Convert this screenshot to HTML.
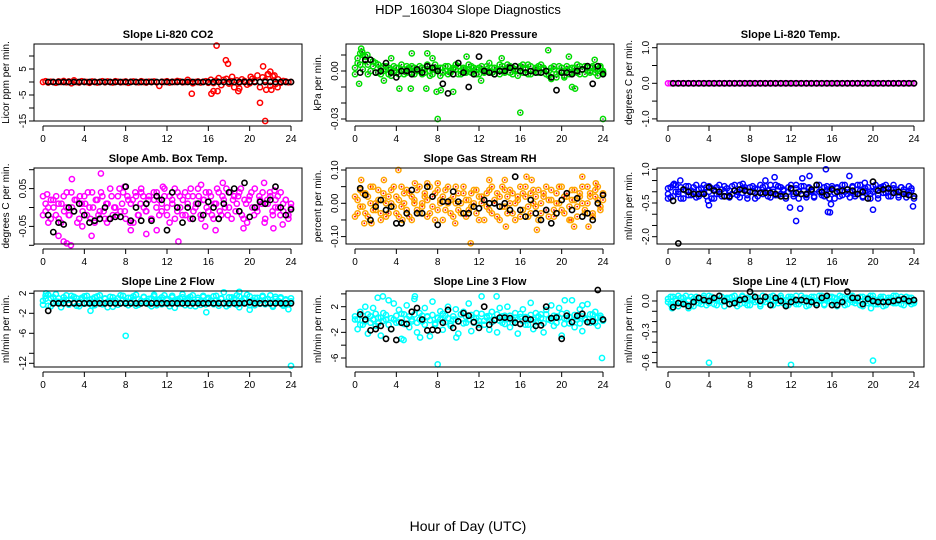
<!DOCTYPE html>
<html><head><meta charset="utf-8"><style>
html,body{margin:0;padding:0;background:#fff;}
svg{display:block;font-family:"Liberation Sans",sans-serif;}
</style></head><body>
<svg id="chart" width="936" height="540" viewBox="0 0 936 540">
<text x="468" y="14" text-anchor="middle" font-size="13">HDP_160304  Slope Diagnostics</text>
<text x="468" y="531" text-anchor="middle" font-size="14">Hour of Day (UTC)</text>
</svg>
<script>
// ---- data ----
const xTicks=[0,4,8,12,16,20,24];
// CO2
const co2Band=[0,0.3,-0.2,0.1,0,-0.3,0.2,0,0.4,-0.1,0.2,-0.5,0.6,0,-0.2,0.3,0.1,0,-0.3,0.2,0.1,-0.2,0,0.3,-0.1,0.2,0,-0.2,0.3,0.1,-0.1,0,0.2,-0.3,0.1,0.2,0,-0.1,0.3,0,-0.2,0.1,0,0.2,-0.1,-1.5,0.1,0,0.3,-0.2,0.1,0,0.4,0.2,-0.1,0,0.8,0.1,-0.5,0,0.2,-0.2,0.1,0.3,-0.3,0.9,-0.4,0.5,1.5,-1.2,0.8,1.2,-0.6,0.3,-2,0.6,-0.3,1,0.4,-1,-0.5,1.2,0.3,2.5,-2,1.8,0.6,3,-1.5,2.2,-0.8,1,-0.3,0.4,0.2,-0.1,0];
const co2OutH=[14.4,16.3,16.5,16.8,16.9,17.7,17.9,18.3,18.9,19,20.1,21,21.3,21.5,21.6,21.8,22,22.1,22.4,22.7];
const co2OutV=[-4.5,-4.5,-3.5,14,-3.5,8.4,7,2,-3.5,-2.5,2,-8,6,-15,-3,3,4,-3,2.5,-2];
const co2Black=[0,0,0,0,0,0,0,0,0,0,0,0,0,0,0,0,0,0,0,0,0,0,0,0,0,0,0,0,0,0,0,0,0,0,0,0,0,0,0,0,0,0,0,0,0,0,0,0];
// Pressure
const prBandA=[0.002,0.008,0.004,0.010,0.006,-0.002,0.007,0.003,0.005,-0.001,0.002,0.000,0.003,-0.002,0.001,0.003,-0.001,0.002,0.000,-0.002,0.003,0.001,-0.001,0.002,0.000,0.003,-0.002,0.001,0.004,0.000,-0.002,0.002,0.001,-0.003,0.002,0.000,0.003,-0.001,0.001,0.004,-0.002,0.000,0.002,-0.001,0.001,0.003,0.000,-0.002,0.002,0.001,-0.001,0.003,0.000,0.002,-0.002,0.001,0.004,0.000,-0.001,0.002,0.003,-0.002,0.001,0.000,0.003,-0.001,0.002,0.004,-0.002,0.000,0.001,0.003,-0.001,0.002,0.000,-0.003,0.002,0.001,-0.002,0.003,0.000,-0.004,0.001,-0.002,0.002,0.000,-0.001,0.003,0.001,-0.002,0.002,0.000,0.003,-0.001,0.001,0.002,-0.001];
const prBandB=[-0.002,0.005,0.011,0.001,0.009,0.004,0.000,0.006,-0.001,0.004,-0.002,0.003,0.001,0.002,-0.003,0.000,0.002,-0.002,0.004,0.001,-0.001,0.002,0.003,-0.002,0.001,0.000,0.002,-0.001,0.003,-0.003,0.001,0.004,0.000,0.002,-0.001,0.003,-0.002,0.000,0.002,0.001,0.003,-0.002,0.001,0.000,0.004,-0.001,0.002,0.001,-0.002,0.003,0.000,0.001,0.005,-0.001,0.002,0.000,-0.002,0.003,0.001,0.004,-0.001,0.002,0.000,-0.003,0.002,0.004,0.001,-0.002,0.003,0.000,0.002,-0.001,0.004,0.001,-0.002,0.000,-0.005,0.003,-0.004,0.000,0.002,-0.003,0.003,0.001,-0.001,0.002,0.004,-0.002,0.001,0.003,0.000,-0.001,0.002,0.001,-0.003,0.003,0.000];
const prOutH=[0.4,0.6,0.7,1.2,3.5,4.3,5.4,5.5,6.9,7,7.5,7.9,8,8.3,9.5,10.8,14.2,16,18.7,20.7,21,21.3,23.2,24,2.8,12.2];
const prOutV=[-0.008,0.014,0.012,0.01,0.008,-0.011,-0.011,0.011,-0.011,0.011,0.008,-0.013,-0.030,-0.012,-0.013,0.009,0.008,-0.026,0.013,0.009,-0.010,-0.011,0.007,-0.030,-0.006,-0.006];
const prBlack=[-0.001,0.007,0.007,-0.001,0.000,0.005,-0.001,-0.004,0.000,0.000,-0.002,0.001,-0.001,0.003,0.002,0.000,-0.008,-0.014,-0.002,0.005,-0.001,-0.010,-0.002,0.009,0.000,-0.001,-0.002,0.000,0.000,0.002,0.003,0.000,-0.001,0.000,-0.001,-0.001,0.000,-0.004,-0.012,-0.001,-0.001,-0.002,0.000,0.001,0.003,-0.008,0.003,-0.002];
// Temperature
const tmBand=[0,0,0,0,0,0,0,0,0,0,0,0,0,0,0,0,0,0,0,0,0,0,0,0,0,0,0,0,0,0,0,0,0,0,0,0,0,0,0,0,0,0,0,0,0,0,0,0,0,0,0,0,0,0,0,0,0,0,0,0,0,0,0,0,0,0,0,0,0,0,0,0,0,0,0,0,0,0,0,0,0,0,0,0,0,0,0,0,0,0,0,0,0,0,0,0,0];
const tmBlack=[0,0,0,0,0,0,0,0,0,0,0,0,0,0,0,0,0,0,0,0,0,0,0,0,0,0,0,0,0,0,0,0,0,0,0,0,0,0,0,0,0,0,0,0,0,0,0,0];
// Amb box temp
const abBandA=[0.03,-0.01,0.00,-0.03,0.02,-0.02,0.01,-0.04,0.03,0.00,-0.02,0.04,-0.01,0.02,-0.03,0.01,0.03,-0.02,0.00,0.04,-0.04,0.02,-0.01,0.03,-0.03,0.01,0.05,-0.02,0.00,0.03,-0.01,0.04,-0.03,0.02,0.01,-0.04,0.03,-0.02,0.05,0.00,-0.01,0.03,-0.03,0.02,0.04,-0.02,0.01,0.03,0.00,-0.04,0.02,0.05,-0.01,0.03,-0.02,0.04,0.01,-0.03,0.03,0.00,0.05,-0.02,0.02,0.04,-0.01,0.03,-0.03,0.01,0.04,-0.02,0.02,0.05,0.00,-0.03,0.03,0.01,0.04,-0.02,0.02,-0.04,0.03,0.00,0.05,-0.01,0.02,0.04,-0.03,0.01,0.03,-0.02,0.02,0.00,0.04,-0.01,0.02,-0.02,0.01];
const abBandB=[-0.02,0.01,-0.04,0.02,0.00,0.03,-0.03,0.01,-0.01,0.04,-0.02,0.00,0.02,-0.04,0.03,-0.01,0.01,0.04,-0.03,0.00,0.02,-0.02,0.04,-0.01,0.01,-0.03,0.03,0.00,-0.02,0.05,0.01,-0.01,0.03,-0.04,0.02,0.04,-0.02,0.01,0.03,-0.01,0.02,-0.03,0.04,0.00,0.02,-0.01,0.05,-0.02,0.03,0.01,-0.03,0.04,0.00,0.02,-0.02,0.03,0.05,-0.01,0.01,0.03,-0.03,0.02,0.00,0.04,-0.02,0.01,0.05,-0.01,0.03,0.00,-0.02,0.04,0.02,-0.01,0.03,0.05,-0.03,0.01,0.02,0.04,-0.02,0.00,0.03,0.01,-0.04,0.02,0.04,-0.01,0.00,0.03,-0.02,0.01,0.02,-0.03,0.00];
const abOutH=[0.4,1.5,2,2.3,2.7,2.8,3.8,4.7,5.6,6.2,7.9,8.5,9.5,10,11,11.6,13.1,15.3,15.7,16.7,17.4,19.4,21.4,22.3,22.4,23.2];
const abOutV=[0.035,-0.075,-0.09,-0.095,-0.1,0.075,-0.05,-0.075,0.09,-0.04,0.055,-0.06,0.04,-0.07,-0.06,0.055,-0.09,0.06,-0.05,-0.06,0.065,-0.055,0.065,-0.055,0.045,-0.045];
const abBlack=[-0.02,-0.065,-0.04,-0.045,0.00,-0.01,0.01,-0.02,-0.04,-0.035,-0.03,0.00,-0.03,-0.025,-0.025,0.055,-0.035,0.00,-0.035,0.01,-0.035,0.03,0.02,-0.06,0.04,0.00,-0.04,0.00,-0.03,0.01,-0.02,0.015,0.00,-0.03,0.01,0.04,0.05,-0.01,0.065,-0.025,0.00,0.015,0.01,0.02,0.055,0.00,-0.02,-0.005];
// Gas stream RH
const rhBandA=[0.02,-0.03,0.04,-0.01,0.03,-0.04,0.00,0.05,-0.02,0.01,-0.05,0.03,0.00,-0.03,0.04,-0.01,0.02,-0.04,0.05,0.00,-0.02,0.03,-0.05,0.01,0.04,-0.03,0.00,0.02,-0.04,0.05,-0.01,0.03,-0.02,0.01,-0.05,0.04,0.00,-0.03,0.02,0.05,-0.02,0.00,0.03,-0.04,0.01,-0.01,0.04,-0.03,0.02,0.00,-0.05,0.03,-0.02,0.05,0.01,-0.04,0.02,-0.01,0.04,-0.03,0.00,0.03,-0.05,0.01,0.05,-0.02,0.02,-0.04,0.03,0.00,-0.01,0.04,-0.03,0.02,0.05,-0.04,0.01,-0.02,0.03,0.00,0.05,-0.03,0.02,-0.01,0.04,0.01,-0.04,0.03,0.00,-0.02,0.05,0.02,-0.03,0.04,0.01,-0.02,0.03];
const rhBandB=[-0.04,0.01,-0.01,0.03,-0.03,0.02,0.05,-0.02,0.00,0.04,-0.03,0.01,-0.04,0.02,0.00,0.05,-0.03,0.01,-0.01,0.03,0.04,-0.04,0.02,0.00,-0.02,0.05,-0.01,0.03,0.01,-0.03,0.02,-0.05,0.04,0.00,0.02,-0.02,0.05,0.01,-0.04,0.00,0.03,-0.03,0.05,0.01,-0.02,0.03,0.00,0.04,-0.05,0.02,0.01,-0.01,0.04,-0.03,0.00,0.03,-0.05,0.05,-0.01,0.02,0.04,-0.03,0.00,0.02,-0.04,0.03,0.05,-0.01,-0.03,0.04,0.02,-0.05,0.00,0.03,-0.02,0.01,0.04,-0.04,0.00,0.05,-0.02,0.02,0.03,-0.05,0.01,0.04,-0.01,0.02,0.05,-0.03,0.00,0.03,-0.04,0.02,0.05,-0.01,0.01];
const rhOutH=[0.6,0.9,1.6,2.8,4.2,4.6,5.8,7,8,9.7,11.2,13,14.5,14.6,16.6,17.1,17.6,20.9,21.2,22,22.6,23.3];
const rhOutV=[0.07,-0.06,-0.06,0.07,0.10,-0.05,0.06,0.06,0.06,-0.06,-0.12,0.07,0.07,-0.07,0.08,0.07,-0.08,-0.05,-0.07,0.08,-0.07,0.06];
const rhBlack=[0.045,0.025,-0.05,-0.01,0.01,-0.02,-0.01,-0.06,-0.06,-0.03,0.04,-0.03,-0.03,0.05,0.02,-0.065,0.005,0.005,0.035,0.005,-0.03,-0.03,-0.01,-0.015,0.01,0.00,0.00,-0.01,0.00,-0.02,0.08,-0.02,-0.04,0.01,-0.03,-0.05,-0.02,-0.06,-0.03,0.01,0.03,-0.02,0.015,-0.04,-0.03,-0.05,0.00,0.025];
// Sample flow
const sfBandA=[-0.1,0.2,-0.2,0.3,0.0,-0.3,0.1,0.25,-0.15,0.05,0.2,-0.25,0.1,-0.05,0.3,-0.2,0.0,0.15,-0.3,0.2,-0.1,0.1,0.25,-0.2,0.05,-0.1,0.3,0.0,-0.25,0.15,0.2,-0.15,0.0,0.25,-0.3,0.1,-0.05,0.2,0.0,-0.2,0.3,0.1,-0.15,0.25,-0.1,0.05,-0.3,0.2,0.1,-0.2,0.3,0.0,-0.1,0.25,-0.25,0.15,0.05,-0.2,0.3,0.0,-0.15,0.2,0.1,-0.3,0.25,-0.05,0.15,-0.2,0.3,0.0,0.1,-0.25,0.2,-0.1,0.3,0.05,-0.2,0.15,0.0,-0.3,0.25,0.1,-0.15,0.2,-0.05,0.3,0.0,-0.2,0.15,0.1,-0.25,0.2,0.0,-0.1,0.25,0.05,-0.2];
const sfBandB=[0.15,-0.25,0.3,0.0,-0.1,0.2,-0.3,0.05,0.25,-0.15,0.0,0.3,-0.2,0.15,-0.05,0.2,0.25,-0.3,0.1,-0.1,0.3,-0.2,0.0,0.15,-0.25,0.25,0.05,-0.15,0.3,-0.05,0.1,-0.3,0.2,0.0,0.15,-0.2,0.3,-0.1,0.25,0.05,-0.25,0.0,0.3,-0.15,0.2,0.1,-0.2,0.0,0.3,-0.1,0.15,-0.3,0.25,0.05,-0.15,0.2,0.0,-0.25,0.1,0.3,-0.05,-0.2,0.25,0.0,0.15,-0.3,0.2,0.05,-0.15,0.3,-0.1,0.0,0.25,-0.2,0.1,0.3,-0.25,0.05,0.2,-0.1,0.0,0.3,-0.3,0.15,0.25,-0.05,-0.2,0.1,0.3,0.0,-0.15,0.2,0.1,-0.25,0.0,0.15,-0.3];
const sfOutH=[0,0.6,1.2,3.9,4.0,9.5,10.4,11.9,12.5,12.9,13.1,13.8,15.4,15.6,15.8,15.9,17.7,20.0,23.9,7.3,19.2];
const sfOutV=[-0.3,0.35,0.5,-0.4,-0.6,0.5,0.65,-0.7,-1.3,-0.75,0.6,0.7,1.0,-0.9,-0.92,-0.55,0.7,-0.8,-0.65,0.35,0.4];
const sfBlack=[-0.4,-2.3,0.1,0.0,-0.1,-0.1,-0.1,0.2,0.05,0.0,-0.2,-0.2,0.05,0.1,0.05,0.0,-0.05,-0.05,-0.05,-0.05,-0.1,-0.2,-0.2,0.15,-0.05,-0.1,-0.1,0.1,0.3,0.0,-0.15,0.1,0.0,0.05,0.1,0.05,-0.1,0.0,-0.3,0.45,0.05,0.1,0.15,-0.05,0.0,-0.1,-0.15,-0.2];
// Line 2 flow
const l2BandA=[0.5,1.5,-0.5,1.0,0.0,1.8,0.3,-0.8,1.2,0.6,-0.3,1.5,0.2,1.0,-0.6,0.8,1.4,0.0,0.7,-0.5,1.2,0.4,1.6,-0.2,0.9,0.3,1.3,-0.7,0.6,1.0,0.0,1.5,0.4,-0.4,1.1,0.7,1.7,-0.3,0.5,1.2,0.1,0.9,-0.6,1.4,0.3,0.8,-0.2,1.6,0.6,0.0,1.2,-0.9,0.5,1.0,1.8,-0.4,0.7,1.3,0.2,-0.6,1.1,0.4,1.5,-0.2,0.8,0.1,1.4,0.6,-0.5,1.0,2.2,0.3,-0.3,1.2,0.7,1.6,-0.8,0.5,1.0,0.0,1.4,0.3,-0.4,1.1,0.6,1.5,-0.2,0.9,0.2,-0.7,1.3,0.5,1.0,-0.5,0.8,-1.2,0.4];
const l2BandB=[-0.3,0.9,1.7,-0.6,1.2,0.4,1.0,0.0,0.6,1.6,-0.2,0.8,1.3,-0.5,0.4,1.1,-0.1,1.5,0.2,0.9,-0.4,1.4,0.6,0.0,1.0,-0.8,0.5,1.2,0.1,-0.3,1.6,0.7,-0.1,1.1,0.3,1.4,-0.5,0.8,0.0,1.3,0.5,-0.2,1.0,1.7,-0.4,0.6,1.2,0.0,0.9,-0.6,1.5,0.3,0.8,-0.1,1.2,0.5,1.0,-0.5,1.6,0.2,0.7,-0.3,1.3,0.0,1.1,0.6,-0.2,1.5,0.3,0.9,0.0,-0.6,1.2,0.4,1.0,-0.3,1.4,0.1,0.8,1.7,-0.4,0.6,1.1,0.2,-0.1,1.3,0.7,0.0,1.6,-0.5,0.9,0.3,1.2,-0.2,0.6,0.0,1.0];
const l2OutH=[8.0,24.0,0.3,4.6,15.8,19,20];
const l2OutV=[-6.5,-12.5,2.0,-1.5,-1.8,2.3,-1.3];
const l2Black=[-1.5,0,0,0,0,0,0,0,0,0,0,0,0,0,0,0,0,0,0,0,0,0,0,0,0,0,0,0,0,0,0,0,0,0,0,0,0,0,0,0.2,0,0,0,0,0,0,0,0];
// Line 3 flow
const l3BandA=[0.0,-1.5,1.2,-0.8,2.0,-2.2,0.5,1.8,-1.0,0.3,-2.5,1.0,0.0,3.0,-1.5,2.5,-0.5,1.5,-3.0,0.8,2.2,-1.2,0.0,3.2,-2.0,1.0,-0.3,1.8,0.5,-2.6,2.8,-0.8,0.2,1.3,-1.6,0.6,2.0,-1.0,0.0,1.6,-2.2,0.8,1.2,-0.5,2.5,-1.8,0.3,1.0,-0.8,3.6,-0.2,0.5,-1.6,1.2,0.0,-2.0,1.8,-0.5,0.6,2.0,-1.2,0.0,1.0,-2.2,0.4,1.6,-0.8,0.2,2.6,-1.5,1.0,-0.3,0.8,-2.0,1.5,0.0,2.2,-1.0,0.5,1.8,-2.5,0.2,1.0,-0.6,3.0,-1.2,0.4,1.6,-1.8,0.0,2.4,-0.5,0.8,1.2,-1.0,0.3,0.0];
const l3BandB=[0.5,0.0,-0.8,0.6,-0.3,0.8,-0.5,0.0,0.9,-0.6,0.3,-0.2,0.7,-0.8,0.2,0.0,0.6,-0.4,0.9,-0.7,0.1,0.5,-0.3,0.8,-0.5,0.0,0.6,-0.8,0.4,-0.1,0.7,-0.6,0.3,0.0,0.9,-0.4,0.2,-0.7,0.5,0.0,-0.3,0.8,-0.6,0.4,0.0,0.7,-0.5,0.2,-0.2,0.9,-0.8,0.3,0.6,-0.4,0.0,0.8,-0.2,0.5,-0.7,0.1,0.6,-0.5,0.3,0.0,0.9,-0.3,0.4,-0.8,0.7,0.0,-0.4,0.5,0.2,-0.6,0.8,0.0,-0.2,0.6,-0.5,0.3,0.9,-0.7,0.1,0.4,-0.3,0.7,0.0,-0.6,0.5,0.2,-0.4,0.8,0.0,-0.5,0.3,0.6,-0.2];
const l3OutH=[8.0,23.9,2.2,2.7,4.7,5.8,6.3,9.8,13.7,20.3,22.0];
const l3OutV=[-7.0,-6.0,3.4,3.6,-3.2,3.6,-2.8,-2.8,3.6,3.0,2.2];
const l3Black=[0.8,0.0,-1.7,-1.5,-1.0,-3.0,-1.5,-3.2,-0.5,-0.7,1.2,1.8,0.0,-1.7,-1.6,-1.7,-0.5,1.5,-1.3,-0.3,1.0,0.6,-0.4,-1.3,2.0,-0.8,-0.1,0.3,0.3,0.2,-0.5,-0.7,0.1,0.0,-1.0,-0.9,2.0,0.2,0.3,-3.0,0.6,-0.4,0.6,0.9,-0.4,-0.3,4.6,0.0];
// Line 4 flow
const l4BandA=[0.02,-0.03,0.04,0.00,-0.05,0.03,-0.01,0.05,0.01,-0.04,0.02,0.04,-0.02,0.00,0.03,-0.04,0.05,0.01,-0.03,0.02,0.00,0.04,-0.05,0.02,0.03,-0.02,0.05,0.00,-0.03,0.04,0.01,-0.04,0.02,0.05,-0.01,0.03,-0.05,0.00,0.04,0.02,-0.03,0.05,0.01,-0.02,0.03,0.00,-0.04,0.04,0.02,-0.01,0.05,-0.03,0.01,0.03,-0.05,0.02,0.04,0.00,-0.02,0.05,0.01,-0.04,0.03,0.00,0.04,-0.03,0.02,0.05,-0.01,-0.04,0.03,0.01,0.05,-0.02,0.00,0.04,-0.05,0.02,0.03,-0.01,0.05,0.00,-0.03,0.02,0.04,-0.04,0.01,0.03,-0.02,0.05,0.00,-0.03,0.02,0.04,-0.01,0.03,-0.02];
const l4BandB=[-0.01,0.04,-0.04,0.02,0.05,-0.02,0.03,-0.03,0.00,0.04,-0.05,0.01,0.03,-0.03,0.05,0.00,-0.02,0.04,0.02,-0.04,0.05,-0.01,0.01,0.03,-0.03,0.04,0.00,-0.05,0.02,0.05,-0.02,0.03,-0.04,0.01,0.04,0.00,-0.03,0.05,-0.01,0.02,0.04,-0.04,0.00,0.03,0.05,-0.02,0.01,-0.04,0.04,0.02,-0.03,0.00,0.05,-0.01,0.03,-0.04,0.01,0.04,-0.02,0.00,0.05,-0.03,0.02,0.04,-0.01,0.03,-0.05,0.00,0.04,0.02,-0.03,0.05,-0.01,0.01,0.03,-0.04,0.04,0.00,-0.02,0.05,0.02,-0.03,0.01,0.04,-0.05,0.00,0.03,-0.01,0.05,-0.02,0.02,0.04,-0.04,0.01,0.03,-0.03,0.00];
const l4OutH=[4.0,12.0,20.0,0.4,2.0,19.8];
const l4OutV=[-0.60,-0.62,-0.58,-0.07,-0.07,-0.07];
const l4Black=[-0.06,-0.02,-0.03,-0.05,-0.01,0.03,0.01,0.00,0.03,0.05,0.00,-0.03,-0.02,0.01,0.02,0.09,0.04,0.00,0.04,-0.04,0.03,0.00,-0.05,-0.01,0.01,0.01,0.00,-0.01,-0.04,0.03,0.05,-0.04,-0.04,-0.01,0.09,0.03,0.03,-0.03,0.02,0.00,-0.01,-0.01,-0.01,0.00,0.01,0.02,0.00,0.01];

// tick arrays
const co2Ticks=[10,5,0,-5,-10,-15], co2Labels=["","5","","-5","","-15"];
const prTicks=[0.01,0.00,-0.01,-0.02,-0.03], prLabels=["","0.00","","","-0.03"];
const tmTicks=[1.0,0.5,0.0,-0.5,-1.0], tmLabels=["1.0","","0.0","","-1.0"];
const abTicks=[0.10,0.05,0.00,-0.05,-0.10], abLabels=["","0.05","","-0.05",""];
const rhTicks=[0.10,0.05,0.00,-0.05,-0.10], rhLabels=["0.10","","0.00","","-0.10"];
const sfTicks=[1.0,0.5,0.0,-0.5,-1.0,-1.5,-2.0], sfLabels=["1.0","","","-0.5","","","-2.0"];
const l2Ticks=[2,-2,-6,-10,-12], l2Labels=["2","-2","-6","","-12"];
const l3Ticks=[4,2,0,-2,-4,-6], l3Labels=["","2","","-2","","-6"];
const l4Ticks=[0.0,-0.1,-0.2,-0.3,-0.4,-0.5,-0.6], l4Labels=["0.0","","","-0.3","","","-0.6"];

// ---- layout ----
const cols=[{bx0:34,bx1:302,h0:43,h24:291},{bx0:346,bx1:614,h0:355,h24:603},{bx0:657,bx1:924,h0:668,h24:914}];
const rows=[{by0:44,by1:121},{by0:168,by1:244},{by0:291,by1:367}];
const panels=[
 {id:"co2",title:"Slope Li-820 CO2",ylab:"Licor ppm  per min.",c:0,r:0,col:"#ff0000",ra:0,pa:82,rb:10,pb:56,bands:[co2Band],oh:co2OutH,ov:co2OutV,blk:co2Black,ticks:co2Ticks,labels:co2Labels},
 {id:"pressure",title:"Slope Li-820 Pressure",ylab:"kPa per min.",c:1,r:0,col:"#00dd00",ra:0,pa:71,rb:-0.03,pb:119,bands:[prBandA,prBandB],oh:prOutH,ov:prOutV,blk:prBlack,ticks:prTicks,labels:prLabels,dots:true},
 {id:"temp",title:"Slope Li-820 Temp.",ylab:"degrees C per min.",c:2,r:0,col:"#ff00ff",ra:0,pa:83.3,rb:1,pb:47.7,bands:[tmBand],oh:[],ov:[],blk:tmBlack,ticks:tmTicks,labels:tmLabels},
 {id:"ambbox",title:"Slope Amb. Box Temp.",ylab:"degrees C per min.",c:0,r:1,col:"#ff00ff",ra:0,pa:207.5,rb:0.05,pb:188.6,bands:[abBandA,abBandB],oh:abOutH,ov:abOutV,blk:abBlack,ticks:abTicks,labels:abLabels},
 {id:"rh",title:"Slope Gas Stream RH",ylab:"percent per min.",c:1,r:1,col:"#ffa500",ra:0,pa:203.3,rb:0.1,pb:170,bands:[rhBandA,rhBandB],oh:rhOutH,ov:rhOutV,blk:rhBlack,ticks:rhTicks,labels:rhLabels,reddots:true},
 {id:"sampleflow",title:"Slope Sample Flow",ylab:"ml/min per min.",c:2,r:1,col:"#0000ff",ra:1,pa:169.3,rb:-2,pb:236.7,bands:[sfBandA,sfBandB],oh:sfOutH,ov:sfOutV,blk:sfBlack,ticks:sfTicks,labels:sfLabels},
 {id:"line2",title:"Slope Line 2 Flow",ylab:"ml/min per min.",c:0,r:2,col:"#00ffff",ra:2,pa:293.3,rb:-12,pb:363.3,bands:[l2BandA,l2BandB],oh:l2OutH,ov:l2OutV,blk:l2Black,ticks:l2Ticks,labels:l2Labels},
 {id:"line3",title:"Slope Line 3 Flow",ylab:"ml/min per min.",c:1,r:2,col:"#00ffff",ra:2,pa:306.7,rb:-6,pb:358,bands:[l3BandA,l3BandB],oh:l3OutH,ov:l3OutV,blk:l3Black,ticks:l3Ticks,labels:l3Labels},
 {id:"line4",title:"Slope Line 4 (LT) Flow",ylab:"ml/min per min.",c:2,r:2,col:"#00ffff",ra:0,pa:301,rb:-0.6,pb:362.7,bands:[l4BandA,l4BandB],oh:l4OutH,ov:l4OutV,blk:l4Black,ticks:l4Ticks,labels:l4Labels}
];
const NS="http://www.w3.org/2000/svg";
const svg=document.getElementById('chart');
function mk(tag,attrs,parent){const e=document.createElementNS(NS,tag);for(const k in attrs)e.setAttribute(k,attrs[k]);(parent||svg).appendChild(e);return e;}
panels.forEach(p=>{
 const C=cols[p.c],R=rows[p.r];
 const xs=h=>C.h0+(h/24)*(C.h24-C.h0);
 const ys=v=>p.pa+(v-p.ra)*(p.pb-p.pa)/(p.rb-p.ra);
 const g=mk('g',{});
 
 
 const t=mk('text',{x:(C.bx0+C.bx1)/2,y:R.by0-6,'text-anchor':'middle','font-size':11,'font-weight':'bold'},g);t.textContent=p.title;
 
 
 const yl=mk('text',{x:0,y:0,'text-anchor':'middle','font-size':10,transform:`translate(${C.bx0-25},${(R.by0+R.by1)/2}) rotate(-90)`},g);yl.textContent=p.ylab;
 
 
 const pts=mk('g',{fill:'none'},g);
 
 
 const dot=(h,v,col,sw)=>{const c=mk('circle',{cx:xs(h).toFixed(1),cy:ys(v).toFixed(1),r:2.6,stroke:col,'stroke-width':sw},pts);
  
  
  if(p.dots&&col!=='#000'){mk('circle',{cx:xs(h).toFixed(1),cy:ys(v).toFixed(1),r:0.8,fill:'#333'},pts);}
  if(p.reddots&&col!=='#000'){mk('circle',{cx:xs(h).toFixed(1),cy:ys(v).toFixed(1),r:0.9,fill:'#ff0000'},pts);}
 };
 p.bands.forEach(b=>b.forEach((v,i)=>dot(i*24/(b.length-1),v,p.col,1.5)));
 p.oh.forEach((h,i)=>dot(h,p.ov[i],p.col,1.5));
 p.blk.forEach((v,i)=>dot(0.5+i*23.5/(p.blk.length-1),v,'#000',1.6));
 const box=mk('rect',{x:C.bx0,y:R.by0,width:C.bx1-C.bx0,height:R.by1-R.by0,fill:'none',stroke:'#000','stroke-width':1},g);
 
 
 const ax=mk('g',{stroke:'#000','stroke-width':1},g);
 
 
 const ay=R.by1+5;
 mk('line',{x1:xs(0),x2:xs(24),y1:ay,y2:ay},ax);
 xTicks.forEach(h=>{mk('line',{x1:xs(h),x2:xs(h),y1:ay,y2:ay+5},ax);
  const tl=mk('text',{x:xs(h),y:ay+16,'text-anchor':'middle','font-size':10,stroke:'none'},ax);tl.textContent=h;
  
  });
 const yax=mk('g',{stroke:'#000','stroke-width':1},g);
 
 
 mk('line',{x1:C.bx0,x2:C.bx0,y1:ys(p.ticks[0]),y2:ys(p.ticks[p.ticks.length-1])},yax);
 p.ticks.forEach((v,i)=>{const y=ys(v);mk('line',{x1:C.bx0-5,x2:C.bx0,y1:y,y2:y},yax);
  if(p.labels[i]){const tl=mk('text',{x:0,y:0,'text-anchor':'middle','font-size':10,stroke:'none',transform:`translate(${C.bx0-8},${y}) rotate(-90)`},yax);tl.textContent=p.labels[i];
  
  }});
});
</script>
</body></html>
